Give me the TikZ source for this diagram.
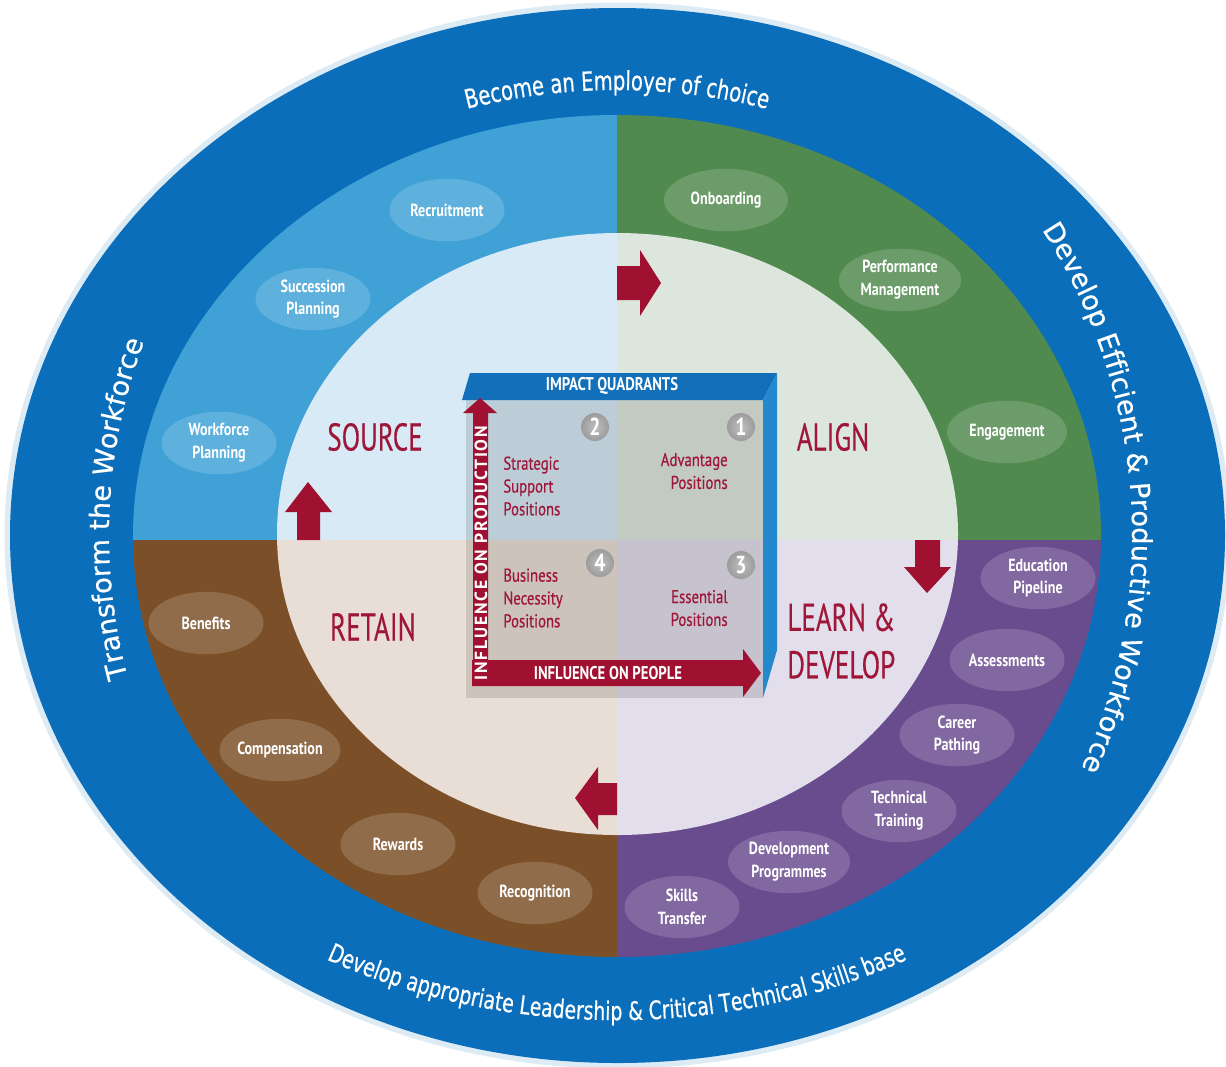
\documentclass[tikz,border=0pt]{standalone}
\usepackage{fontspec}
\usetikzlibrary{shapes.geometric,decorations.text,calc}
\setmainfont{PT Sans}
\newfontfamily\itemfont[FakeStretch=0.8]{PT Sans}
\newfontfamily\boxfont[FakeStretch=0.8, FakeBold=0.5]{PT Sans}
\newfontfamily\headfont[FakeStretch=0.7, FakeBold=0.3]{PT Sans}
\newfontfamily\axisfont[LetterSpace=10]{PT Sans}
\newfontfamily\arcwide[FakeBold=0.5]{DejaVu Sans}
\newfontfamily\arcnarrow[FakeStretch=0.74, FakeBold=0.5]{DejaVu Sans}

\definecolor{ringblue}{RGB}{11,110,186}
\definecolor{qblue}{RGB}{64,161,215}
\definecolor{qgreen}{RGB}{80,138,78}
\definecolor{qbrown}{RGB}{123,80,40}
\definecolor{qpurple}{RGB}{105,76,142}
\definecolor{pblue}{RGB}{215,234,245}
\definecolor{pgreen}{RGB}{221,230,221}
\definecolor{pbrown}{RGB}{233,222,214}
\definecolor{ppurple}{RGB}{226,222,236}
\definecolor{crimson}{RGB}{158,22,56}
\definecolor{arrowred}{RGB}{160,16,48}
\definecolor{barblue}{RGB}{18,112,186}
\definecolor{sideblue}{RGB}{36,136,204}

\tikzset{
  oval/.style={ellipse, fill=white, fill opacity=0.16, text opacity=1, text=white,
    minimum width=2.3cm, minimum height=1.25cm, inner sep=0pt, align=center,
    font=\itemfont\bfseries\fontsize{10}{13}\selectfont},
  heading/.style={text=crimson, inner sep=0pt, align=left,
    font=\headfont\fontsize{22}{27}\selectfont},
  boxtxt/.style={text=crimson, inner sep=0pt,
    font=\boxfont\fontsize{10.5}{13}\selectfont},
  numc/.style={circle, minimum size=0.56cm, inner sep=0pt, inner color=gray!50,
    outer color=gray!78, text=white, font=\itemfont\bfseries\fontsize{14}{14}\selectfont},
  axistxt/.style={text=white, inner sep=0pt,
    font=\itemfont\bfseries\fontsize{10.5}{10.5}\selectfont},
  blockarrow/.style={fill=arrowred}
}

\begin{document}
\begin{tikzpicture}[x=0.02cm, y=0.02cm]
\useasboundingbox (0,-1066) rectangle (1226,0);
\fill[white] (0,-1066) rectangle (1226,0);

% outer ring with a faint halo
\fill[ringblue!14] (617.5,-535.5) ellipse [x radius=613, y radius=533];
\fill[ringblue] (617.5,-535.5) ellipse [x radius=607.5, y radius=527.5];

% four quadrants: coloured middle ring and pale inner field
\begin{scope}
  \clip (0,0) rectangle (617,-540);
  \fill[qblue] (617,-536) ellipse [x radius=484, y radius=421];
  \fill[pblue] (617.5,-534) ellipse [x radius=340.5, y radius=301];
\end{scope}
\begin{scope}
  \clip (617,0) rectangle (1226,-540);
  \fill[qgreen] (617,-536) ellipse [x radius=484, y radius=421];
  \fill[pgreen] (617.5,-534) ellipse [x radius=340.5, y radius=301];
\end{scope}
\begin{scope}
  \clip (0,-540) rectangle (617,-1066);
  \fill[qbrown] (617,-536) ellipse [x radius=484, y radius=421];
  \fill[pbrown] (617.5,-534) ellipse [x radius=340.5, y radius=301];
\end{scope}
\begin{scope}
  \clip (617,-540) rectangle (1226,-1066);
  \fill[qpurple] (617,-536) ellipse [x radius=484, y radius=421];
  \fill[ppurple] (617.5,-534) ellipse [x radius=340.5, y radius=301];
\end{scope}

% lettering around the outer ring
\path[decorate, decoration={text along path, text align=center,
  text={|\arcnarrow\fontsize{15}{17}\selectfont\color{white}|Become an Employer of choice}}]
  ($(617,-535)+(130:520 and 445)$) arc [start angle=130, end angle=50, x radius=520, y radius=445];
\path[decorate, decoration={text along path, text align=center,
  text={|\arcwide\fontsize{15.5}{18}\selectfont\color{white}|Develop Efficient {\&} Productive Workforce}}]
  ($(617,-535)+(66:515 and 540)$) arc [start angle=66, end angle=-57, x radius=515, y radius=540];
\path[decorate, decoration={text along path, text align=center,
  text={|\arcwide\fontsize{15.5}{18}\selectfont\color{white}|Transform the Workforce}}]
  ($(617,-535)+(232:508 and 530)$) arc [start angle=232, end angle=122, x radius=508, y radius=530];
\path[decorate, decoration={text along path, text align=center,
  text={|\arcnarrow\fontsize{14.5}{17}\selectfont\color{white}|Develop appropriate Leadership {\&} Critical Technical Skills base}}]
  ($(617,-535)+(205:600 and 485)$) arc [start angle=205, end angle=335, x radius=600, y radius=485];

% activity ovals
\node[oval] (recruit) at (447,-210) {Recruitment};
\node[oval] (succ) at (313,-299) {Succession\\Planning};
\node[oval] (wfp) at (219,-443) {Workforce\\Planning};
\node[oval, minimum width=2.48cm] (onb) at (726,-200) {Onboarding};
\node[oval, minimum width=2.44cm] (perf) at (900,-280) {Performance\\Management};
\node[oval, minimum width=2.4cm] (eng) at (1007,-432) {Engagement};
\node[oval] (edu) at (1038,-578) {Education\\Pipeline};
\node[oval] (assess) at (1007,-660) {Assessments};
\node[oval] (career) at (957,-735) {Career\\Pathing};
\node[oval] (tech) at (899,-811) {Technical\\Training};
\node[oval, minimum width=2.44cm] (devp) at (789,-862) {Development\\Programmes};
\node[oval] (skills) at (682,-907) {Skills\\Transfer};
\node[oval] (benef) at (206,-623) {Benefits};
\node[oval, minimum width=2.36cm] (comp) at (280,-750) {Compensation};
\node[oval] (reward) at (398,-844) {Rewards};
\node[oval] (recog) at (535,-893) {Recognition};

% cycle arrows
\fill[blockarrow] (617,-266) -- (640,-266) -- (640,-250) -- (661,-283) -- (640,-316) -- (640,-300) -- (617,-300) -- cycle;
\fill[blockarrow] (915,-540) -- (940,-540) -- (940,-567) -- (951,-567) -- (927,-593) -- (904,-567) -- (915,-567) -- cycle;
\fill[blockarrow] (617,-783) -- (617,-815) -- (598,-815) -- (598,-830) -- (575,-798) -- (598,-767) -- (598,-783) -- cycle;
\fill[blockarrow] (297,-540) -- (297,-512) -- (285,-512) -- (308,-482) -- (332,-512) -- (320,-512) -- (320,-540) -- cycle;

% stage headings
\node[heading] (source) at (375,-437) {SOURCE};
\node[heading] (align) at (833,-437) {ALIGN};
\node[heading] (retain) at (373,-627) {RETAIN};
\node[heading, anchor=west] (learn) at (787,-641) {LEARN \&\\DEVELOP};

% impact quadrant box
\fill[black, fill opacity=0.12] (466,-400) rectangle (763,-698);
\fill[barblue] (470,-373) -- (777,-373) -- (763,-400) -- (462,-400) -- cycle;
\fill[sideblue] (763,-400) -- (777,-373) -- (777,-650) -- (763,-698) -- cycle;
\node[axistxt] (impact) at (612,-386) {IMPACT QUADRANTS};

% axes of the box
\fill[arrowred] (473,-685) -- (473,-413) -- (463,-413) -- (480,-398) -- (497,-413) -- (488,-413) -- (488,-685) -- cycle;
\fill[arrowred] (472,-660) -- (743,-660) -- (743,-649) -- (761,-673) -- (743,-697) -- (743,-686) -- (472,-686) -- cycle;
\node[axistxt] (people) at (608,-673) {INFLUENCE ON PEOPLE};
\node[axistxt, rotate=90, font=\axisfont\bfseries\fontsize{10}{10}\selectfont] (prod) at (481,-553) {INFLUENCE ON PRODUCTION};

% quadrant numbers and position types
\node[numc] (q2) at (595,-427) {2};
\node[numc] (q1) at (741,-427) {1};
\node[numc] (q4) at (600,-563) {4};
\node[numc] (q3) at (741,-565) {3};
\node[boxtxt, anchor=west, align=left] (strat) at (503,-486) {Strategic\\Support\\Positions};
\node[boxtxt, anchor=east, align=right] (adv) at (728,-471) {Advantage\\Positions};
\node[boxtxt, anchor=west, align=left] (bus) at (503,-598) {Business\\Necessity\\Positions};
\node[boxtxt, anchor=east, align=right] (ess) at (728,-608) {Essential\\Positions};
\end{tikzpicture}
\end{document}
